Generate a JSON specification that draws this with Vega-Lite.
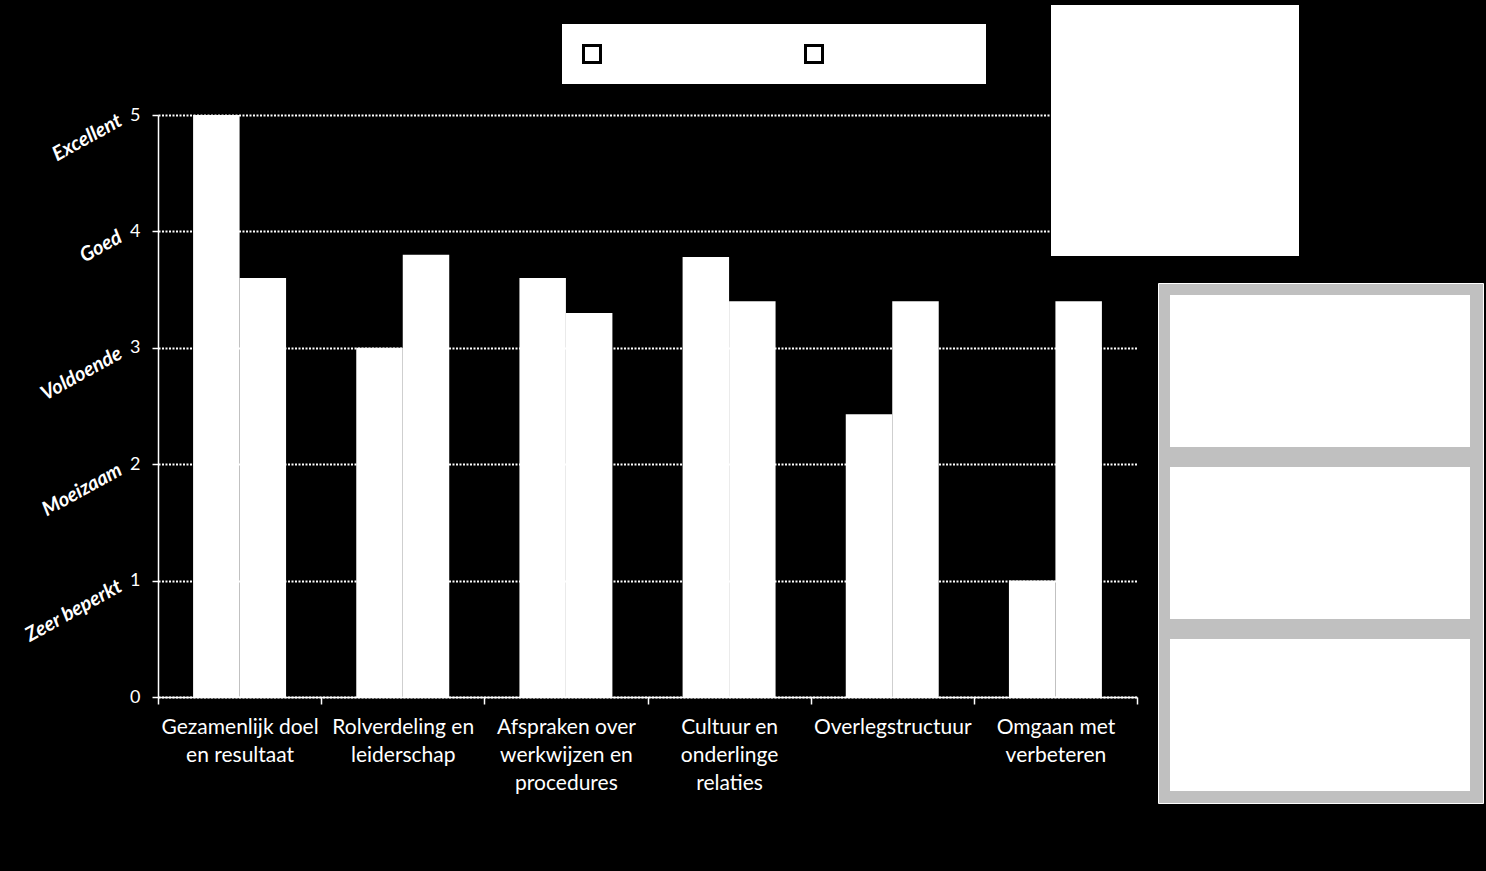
{
  "$schema": "https://vega.github.io/schema/vega-lite/v6.json",
  "background": "black",
  "autosize": {"type": "none"},
  "width": 979,
  "height": 582,
  "padding": {"left": 158, "top": 115, "right": 349, "bottom": 174},
  "config": {"view": {"stroke": null}, "font": "Lato"},
  "data": {"values": [
    {"cat": "Gezamenlijk doel en resultaat", "series": "Reeks 1", "value": 5.0},
    {"cat": "Gezamenlijk doel en resultaat", "series": "Reeks 2", "value": 3.6},
    {"cat": "Rolverdeling en leiderschap", "series": "Reeks 1", "value": 3.0},
    {"cat": "Rolverdeling en leiderschap", "series": "Reeks 2", "value": 3.8},
    {"cat": "Afspraken over werkwijzen en procedures", "series": "Reeks 1", "value": 3.6},
    {"cat": "Afspraken over werkwijzen en procedures", "series": "Reeks 2", "value": 3.3},
    {"cat": "Cultuur en onderlinge relaties", "series": "Reeks 1", "value": 3.78},
    {"cat": "Cultuur en onderlinge relaties", "series": "Reeks 2", "value": 3.4},
    {"cat": "Overlegstructuur", "series": "Reeks 1", "value": 2.43},
    {"cat": "Overlegstructuur", "series": "Reeks 2", "value": 3.4},
    {"cat": "Omgaan met verbeteren", "series": "Reeks 1", "value": 1.0},
    {"cat": "Omgaan met verbeteren", "series": "Reeks 2", "value": 3.4}
  ]},
  "resolve": {"axis": {"y": "independent"}},
  "layer": [
    {
      "mark": {"type": "bar"},
      "encoding": {
        "x": {
          "field": "cat", "type": "nominal", "sort": null,
          "scale": {"paddingInner": 0, "paddingOuter": 0},
          "axis": {
            "title": null, "tickBand": "extent", "labelAngle": 0,
            "labelExpr": "datum.value == 'Gezamenlijk doel en resultaat' ? ['Gezamenlijk doel', 'en resultaat'] : datum.value == 'Rolverdeling en leiderschap' ? ['Rolverdeling en', 'leiderschap'] : datum.value == 'Afspraken over werkwijzen en procedures' ? ['Afspraken over', 'werkwijzen en', 'procedures'] : datum.value == 'Cultuur en onderlinge relaties' ? ['Cultuur en', 'onderlinge', 'relaties'] : datum.value == 'Omgaan met verbeteren' ? ['Omgaan met', 'verbeteren'] : datum.value",
            "labelFont": "Lato", "labelFontSize": 21, "labelColor": "white",
            "labelLineHeight": 28, "labelBaseline": "top", "labelPadding": 12,
            "labelLimit": 300, "labelOverlap": false,
            "domainColor": "white", "domainWidth": 1.5,
            "tickColor": "white", "tickSize": 7, "tickWidth": 1.5
          }
        },
        "xOffset": {"field": "series", "type": "nominal", "sort": null,
          "scale": {"paddingInner": 0, "paddingOuter": 0.755}},
        "y": {
          "field": "value", "type": "quantitative",
          "scale": {"domain": [0, 5], "nice": false},
          "axis": {
            "title": null, "values": [0, 1, 2, 3, 4, 5],
            "grid": true, "gridColor": "white", "gridDash": [2, 1.5], "gridWidth": 2,
            "domainColor": "white", "domainWidth": 1.5,
            "tickColor": "white", "tickSize": 6, "tickWidth": 1.5,
            "labelColor": "white", "labelFont": "Lato", "labelFontSize": 18,
            "labelPadding": 12, "orient": "left"
          }
        },
        "color": {
          "field": "series", "type": "nominal", "sort": null,
          "scale": {"range": ["white", "white"]},
          "legend": {
            "orient": "none", "legendX": 404, "legendY": -91,
            "direction": "horizontal", "title": null,
            "fillColor": "white", "padding": 10,
            "symbolType": "square", "symbolSize": 289,
            "symbolStrokeColor": "black", "symbolStrokeWidth": 3,
            "labelColor": "white", "labelFontSize": 40, "labelOffset": 4,
            "columnPadding": 40
          }
        },
        "opacity": {
          "field": "value", "type": "quantitative",
          "scale": {"range": [1, 1]},
          "legend": {
            "orient": "none", "legendX": 893, "legendY": -110,
            "title": null, "values": [5],
            "fillColor": "white", "padding": 10,
            "symbolType": "M-1,-1.026H1V1.026H-1Z", "symbolSize": 51984,
            "symbolFillColor": "white", "symbolStrokeWidth": 0,
            "labelExpr": "''", "labelOffset": 0
          }
        },
        "strokeWidth": {
          "field": "cat", "type": "ordinal", "sort": null,
          "scale": {"range": [0, 0, 0, 0, 0, 0]},
          "legend": {
            "orient": "none", "legendX": 1000, "legendY": 168,
            "title": null, "direction": "vertical",
            "values": ["Gezamenlijk doel en resultaat", "Rolverdeling en leiderschap", "Afspraken over werkwijzen en procedures"],
            "fillColor": "#c0c0c0", "strokeColor": "white", "padding": 12,
            "rowPadding": 20,
            "symbolType": "M-1,-1H2.9474V1H-1Z", "symbolSize": 23104,
            "symbolFillColor": "white", "symbolStrokeColor": "white",
            "labelExpr": "''", "labelOffset": 0
          }
        }
      }
    },
    {
      "mark": {"type": "point", "opacity": 0},
      "encoding": {
        "y": {
          "field": "value", "type": "quantitative",
          "axis": {
            "title": null, "orient": "left", "values": [1, 2, 3, 4, 5],
            "labelExpr": "['', 'Zeer beperkt', 'Moeizaam', 'Voldoende', 'Goed', 'Excellent'][datum.value]",
            "labelAngle": -29, "labelAlign": "right", "labelBaseline": "middle",
            "labelFont": "Lato", "labelFontStyle": "italic", "labelFontWeight": "bold",
            "labelFontSize": 20, "labelColor": "white", "labelPadding": 38,
            "labelOffset": 4, "labelOverlap": false, "labelFlush": false,
            "ticks": false, "domain": false, "grid": false
          }
        }
      }
    }
  ]
}
